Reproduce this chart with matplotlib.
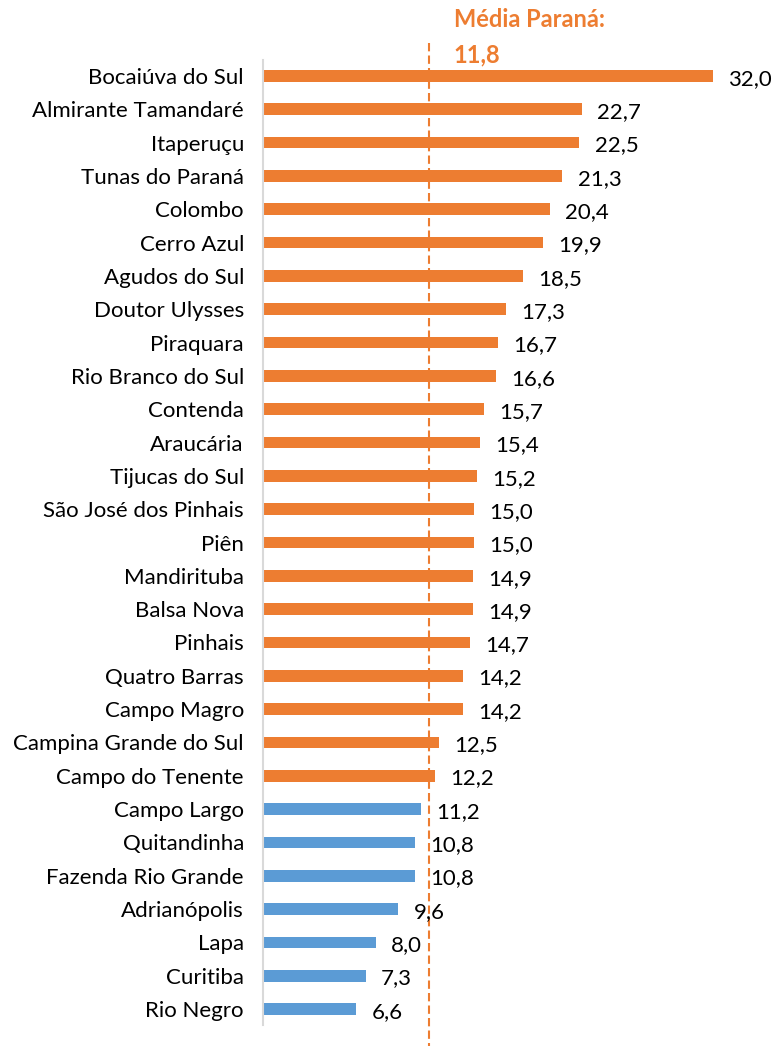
import matplotlib.pyplot as plt

plt.rcParams['font.family'] = ['Lato', 'DejaVu Sans']

# municipalities, top to bottom
municipios = [
    "Bocaiúva do Sul", "Almirante Tamandaré", "Itaperuçu", "Tunas do Paraná",
    "Colombo", "Cerro Azul", "Agudos do Sul", "Doutor Ulysses", "Piraquara",
    "Rio Branco do Sul", "Contenda", "Araucária", "Tijucas do Sul",
    "São José dos Pinhais", "Piên", "Mandirituba", "Balsa Nova", "Pinhais",
    "Quatro Barras", "Campo Magro", "Campina Grande do Sul", "Campo do Tenente",
    "Campo Largo", "Quitandinha", "Fazenda Rio Grande", "Adrianópolis", "Lapa",
    "Curitiba", "Rio Negro",
]
valores = [32.0, 22.7, 22.5, 21.3, 20.4, 19.9, 18.5, 17.3, 16.7, 16.6, 15.7,
           15.4, 15.2, 15.0, 15.0, 14.9, 14.9, 14.7, 14.2, 14.2, 12.5, 12.2,
           11.2, 10.8, 10.8, 9.6, 8.0, 7.3, 6.6]
media_parana = 11.8

orange = '#ED7D31'
blue = '#5B9BD5'

fig = plt.figure(figsize=(7.8, 10.47), dpi=100)
ax = fig.add_axes([0.3376, 0.021, 0.612, 0.9217])

ypos = list(range(len(municipios)))
cores = [orange if v > media_parana else blue for v in valores]
ax.barh(ypos, valores, height=0.35, color=cores)

for y, v in zip(ypos, valores):
    ax.annotate(f"{v:.1f}".replace('.', ','), (v, y), xytext=(11, -2),
                textcoords='offset points', va='center', ha='left',
                fontsize=16, color='black')

ax.set_xlim(0, 34)
ax.set_ylim(28.48, -0.48)
ax.set_yticks(ypos)
ax.set_yticklabels(municipios, fontsize=16)
ax.tick_params(axis='y', length=0, pad=14)
ax.set_xticks([])

for s in ['top', 'right', 'bottom']:
    ax.spines[s].set_visible(False)
ax.spines['left'].set_color('#D9D9D9')
ax.spines['left'].set_linewidth(1.5)

# average line, running past the axes
ax.plot([media_parana, media_parana], [-1.0, 29.1], color=orange, lw=1.5,
        linestyle=(0, (4, 2)), clip_on=False)
ax.text(media_parana + 1.75, -1.47, "Média Paraná:", color=orange,
        fontsize=17, fontweight='bold', ha='left', va='baseline')
ax.text(media_parana + 1.75, -0.42, "11,8", color=orange,
        fontsize=17, fontweight='bold', ha='left', va='baseline')

fig.savefig('out.png', dpi=100)
